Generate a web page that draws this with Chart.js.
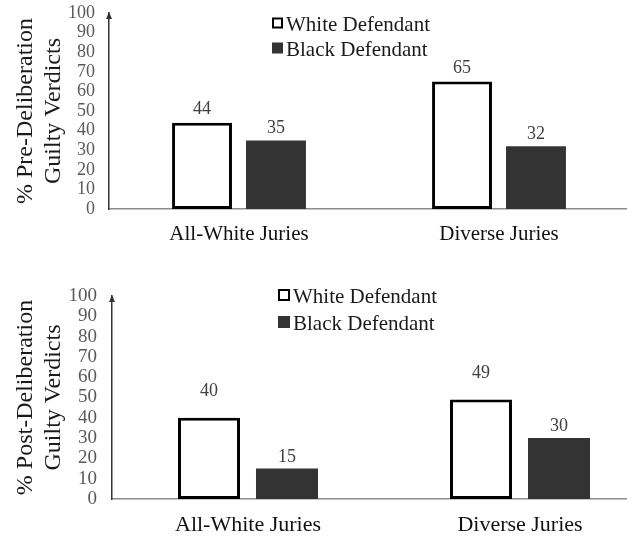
<!DOCTYPE html>
<html>
<head>
<meta charset="utf-8">
<script src="https://cdn.jsdelivr.net/npm/chart.js@4.4.1/dist/chart.umd.min.js"></script>
<style>
  html, body { margin: 0; padding: 0; background: #fff; overflow: hidden; }
  #wrap { position: relative; width: 627px; height: 537px; overflow: hidden; }
  #wrap canvas { position: absolute; left: 0; }
</style>
</head>
<body>
<div id="wrap">
  <canvas id="preChart" width="640" height="270" style="top:-17px"></canvas>
  <canvas id="postChart" width="670" height="290" style="top:265px"></canvas>
</div>
<script>
// data
const categories = ["All-White Juries", "Diverse Juries"];
const seriesNames = ["White Defendant", "Black Defendant"];
const preWhite = [44, 65];
const preBlack = [35, 32];
const postWhite = [40, 49];
const postBlack = [15, 30];
const yMin = 0;
const yMax = 100;
const yStep = 10;

const SERIF = "'Liberation Serif', 'Times New Roman', serif";

// legend drawn in the chart area, one row per dataset
const boxLegend = {
  id: "boxLegend",
  afterDraw(chart, args, opts) {
    const ctx = chart.ctx;
    ctx.save();
    ctx.font = opts.fontSize + "px " + SERIF;
    ctx.textBaseline = "middle";
    ctx.textAlign = "left";
    chart.data.datasets.forEach((ds, i) => {
      const cy = opts.y + i * opts.rowGap;
      const s = opts.box;
      ctx.fillStyle = ds.backgroundColor;
      ctx.fillRect(opts.x, cy - s / 2, s, s);
      if (ds.borderWidth) {
        ctx.lineWidth = 2;
        ctx.strokeStyle = "#000";
        ctx.strokeRect(opts.x + 1, cy - s / 2 + 1, s - 2, s - 2);
      }
      ctx.fillStyle = "#1a1a1a";
      ctx.fillText(ds.label, opts.x + s + opts.gap, cy + 2);
    });
    ctx.restore();
  }
};

// value labels above each bar
const valueLabels = {
  id: "valueLabels",
  afterDatasetsDraw(chart, args, opts) {
    const ctx = chart.ctx;
    ctx.save();
    ctx.font = opts.fontSize + "px " + SERIF;
    ctx.fillStyle = "#404040";
    ctx.textAlign = "center";
    ctx.textBaseline = "alphabetic";
    chart.data.datasets.forEach((ds, i) => {
      const meta = chart.getDatasetMeta(i);
      meta.data.forEach((bar, j) => {
        ctx.fillText(String(ds.data[j]), bar.x, bar.y - opts.gaps[i]);
      });
    });
    ctx.restore();
  }
};

// little arrow head on top of the y axis
const axisArrow = {
  id: "axisArrow",
  afterDraw(chart) {
    const ctx = chart.ctx;
    const a = chart.chartArea;
    const x = a.left;
    ctx.save();
    ctx.fillStyle = "#333";
    ctx.beginPath();
    ctx.moveTo(x, a.top - 1);
    ctx.lineTo(x - 3, a.top + 6);
    ctx.lineTo(x + 3, a.top + 6);
    ctx.closePath();
    ctx.fill();
    ctx.restore();
  }
};

function makeChart(id, whiteVals, blackVals, title, cfg) {
  const ctx = document.getElementById(id).getContext("2d");
  return new Chart(ctx, {
    type: "bar",
    data: {
      labels: categories,
      datasets: [{
        label: seriesNames[0],
        data: whiteVals,
        backgroundColor: "#ffffff",
        borderColor: "#000000",
        borderWidth: 3,
        borderSkipped: false,
        categoryPercentage: cfg.catPct,
        barPercentage: cfg.barPct
      }, {
        label: seriesNames[1],
        data: blackVals,
        backgroundColor: "#333333",
        borderWidth: 0,
        categoryPercentage: cfg.catPct,
        barPercentage: cfg.barPct
      }]
    },
    options: {
      responsive: false,
      animation: false,
      layout: {
        padding: { left: 0, top: cfg.top, right: cfg.right, bottom: cfg.bottom }
      },
      plugins: {
        legend: { display: false },
        tooltip: { enabled: false },
        boxLegend: cfg.legend,
        valueLabels: { fontSize: 18, gaps: cfg.labelGaps }
      },
      scales: {
        x: {
          grid: { display: false, drawTicks: false },
          border: { display: true, color: "#8c8c8c", width: 1.5 },
          ticks: {
            color: "#111",
            padding: 13,
            font: { family: SERIF, size: cfg.xFont }
          },
          afterFit(scale) { scale.height = cfg.xHeight; }
        },
        y: {
          min: yMin,
          max: yMax,
          grid: { display: false, drawTicks: false },
          border: { display: true, color: "#333", width: 1.5 },
          ticks: {
            stepSize: yStep,
            autoSkip: false,
            color: "#595959",
            padding: cfg.tickPad,
            font: { family: SERIF, size: cfg.yFont }
          },
          title: {
            display: true,
            text: title,
            color: "#1a1a1a",
            padding: { top: 11, bottom: 0 },
            font: { family: SERIF, size: 24, lineHeight: 1.2 }
          },
          afterFit(scale) { scale.width = cfg.yWidth; }
        }
      }
    },
    plugins: [boxLegend, valueLabels, axisArrow]
  });
}

// top panel canvas sits 17px above the page, so its chart area starts at y=13
makeChart("preChart", preWhite, preBlack, ["% Pre-Deliberation", "Guilty Verdicts"], {
  catPct: 0.569, barPct: 0.81,
  top: 30, right: 11, bottom: 4,
  xHeight: 40, yWidth: 109,
  xFont: 21, yFont: 18, tickPad: 14,
  labelGaps: [9, 7],
  legend: { x: 272, y: 40, rowGap: 25, box: 11, gap: 3, fontSize: 21 }
});

makeChart("postChart", postWhite, postBlack, ["% Post-Deliberation", "Guilty Verdicts"], {
  catPct: 0.5735, barPct: 0.795,
  top: 31, right: 14, bottom: 11,
  xHeight: 45, yWidth: 112,
  xFont: 22, yFont: 19, tickPad: 15,
  labelGaps: [22, 7],
  legend: { x: 278, y: 30, rowGap: 27, box: 12, gap: 3, fontSize: 21 }
});
</script>
</body>
</html>
